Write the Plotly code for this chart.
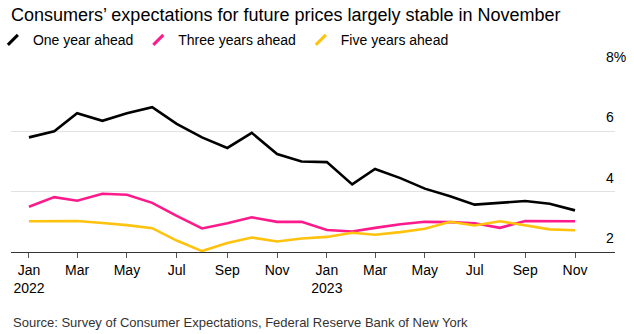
import plotly.graph_objects as go

# Monthly survey dates (first of month)
months = [
    "2022-01-01", "2022-02-01", "2022-03-01", "2022-04-01", "2022-05-01", "2022-06-01",
    "2022-07-01", "2022-08-01", "2022-09-01", "2022-10-01", "2022-11-01", "2022-12-01",
    "2023-01-01", "2023-02-01", "2023-03-01", "2023-04-01", "2023-05-01", "2023-06-01",
    "2023-07-01", "2023-08-01", "2023-09-01", "2023-10-01", "2023-11-01",
]

# Median expected inflation, %
one_year = [5.8, 6.0, 6.6, 6.35, 6.6, 6.8, 6.25, 5.8, 5.45, 5.95, 5.25, 5.0,
            4.98, 4.24, 4.75, 4.45, 4.1, 3.85, 3.57, 3.64, 3.69, 3.6, 3.38]
three_year = [3.5, 3.82, 3.7, 3.93, 3.9, 3.63, 3.2, 2.78, 2.95, 3.15, 3.0, 3.0,
              2.73, 2.68, 2.8, 2.92, 3.0, 2.99, 2.95, 2.8, 3.03, 3.02, 3.02]
five_year = [3.02, 3.02, 3.03, 2.96, 2.89, 2.79, 2.38, 2.03, 2.3, 2.48, 2.35, 2.45,
             2.5, 2.64, 2.57, 2.66, 2.77, 3.0, 2.88, 3.02, 2.87, 2.75, 2.72]

series_names = ["One year ahead", "Three years ahead", "Five years ahead"]
series_colors = ["#000000", "#ff1a8c", "#ffc20e"]

tick_dates = months[::2]
tick_text = ["Jan<br>2022", "Mar", "May", "Jul", "Sep", "Nov",
             "Jan<br>2023", "Mar", "May", "Jul", "Sep", "Nov"]
y_ticks = [2, 4, 6, 8]
y_tick_text = ["2", "4", "6", "8%"]

fig = go.Figure()

# Legend-only entries with a slanted stroke as the key
for name, color in zip(series_names, series_colors):
    fig.add_trace(go.Scatter(
        x=[None], y=[None], mode="markers", name=name,
        marker=dict(symbol="line-ne", size=10, line=dict(width=3, color=color)),
        hoverinfo="skip",
    ))

for name, color, values in zip(series_names, series_colors,
                               [one_year, three_year, five_year]):
    fig.add_trace(go.Scatter(
        x=months, y=values, mode="lines", name=name, showlegend=False,
        line=dict(color=color, width=2.6),
    ))

fig.update_layout(
    width=634, height=334,
    margin=dict(l=11, r=19, t=71, b=82, autoexpand=False),
    paper_bgcolor="white", plot_bgcolor="white",
    font=dict(family="Liberation Sans, Arial, sans-serif", color="#000"),
    title=dict(
        text="Consumers’ expectations for future prices largely stable in November",
        x=0, xref="paper", xanchor="left", y=1, yref="container", yanchor="top",
        pad=dict(t=8, l=0), font=dict(size=18, color="#000"),
    ),
    legend=dict(
        orientation="h", x=-0.03, xanchor="left", y=1.17, yanchor="middle",
        font=dict(size=14, color="#000"), itemwidth=30,
        bgcolor="rgba(0,0,0,0)", traceorder="normal",
    ),
    xaxis=dict(
        type="date", range=["2021-12-10", "2023-12-20"],
        tickvals=tick_dates, ticktext=tick_text,
        ticks="outside", ticklen=5, tickcolor="#555", tickwidth=1,
        showline=True, linecolor="#333", linewidth=1,
        showgrid=False, zeroline=False,
        tickfont=dict(size=14, color="#000"),
        automargin=False,
    ),
    yaxis=dict(
        range=[2, 8], side="right", tickvals=y_ticks, ticktext=y_tick_text,
        ticklabelposition="outside top", ticklabelstandoff=-10, ticklabelshift=-4,
        showgrid=True, gridcolor="#e2e2e2", gridwidth=1.2,
        zeroline=False, showline=False, ticks="",
        tickfont=dict(size=14, color="#000"),
        automargin=False,
    ),
    showlegend=True,
)

fig.add_annotation(
    text="Source: Survey of Consumer Expectations, Federal Reserve Bank of New York",
    xref="paper", yref="paper", x=0, y=-0.337, xanchor="left", yanchor="top",
    showarrow=False, font=dict(size=13, color="#333"),
)

fig.write_html("out.html")
